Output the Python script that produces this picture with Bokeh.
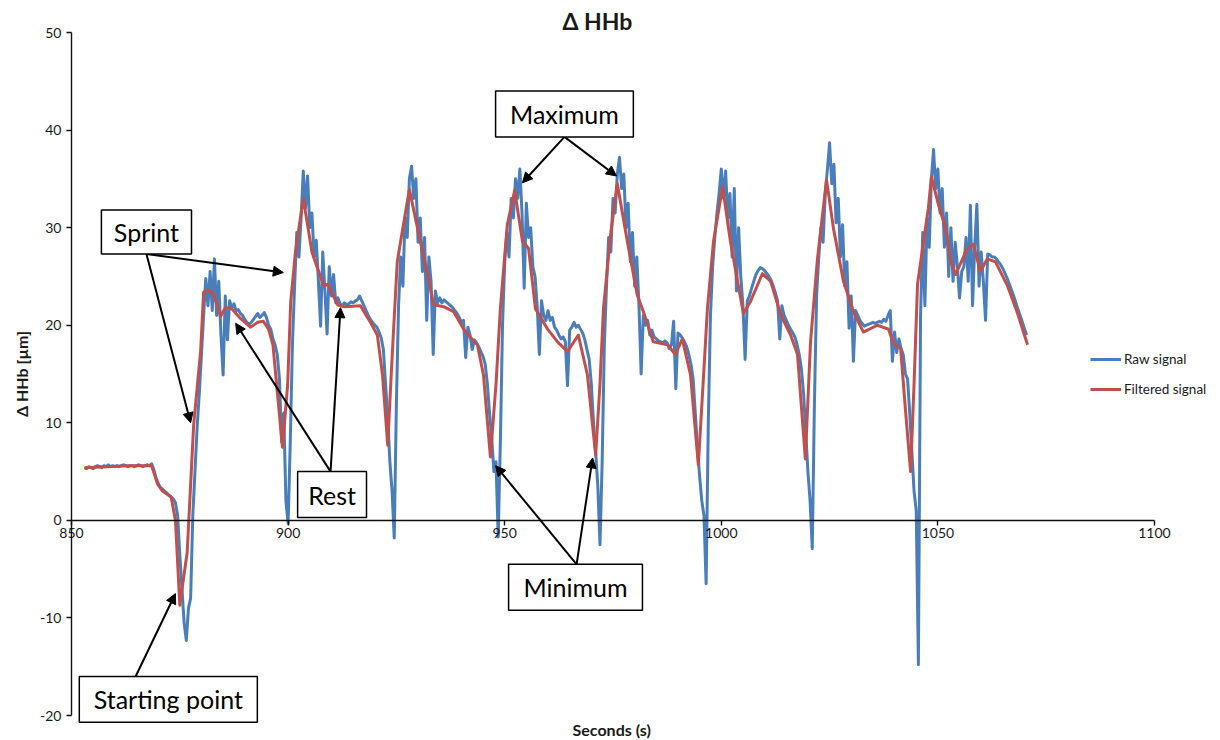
import numpy as np
from bokeh.plotting import figure
from bokeh.models import (Range1d, Label, BoxAnnotation, Arrow, NormalHead,
                          Legend, LegendItem, FixedTicker)
from bokeh.embed import file_html
from bokeh.resources import INLINE

# ---------------- data ----------------
x_ticks = [850, 900, 950, 1000, 1050, 1100]
y_ticks = [-20, -10, 0, 10, 20, 30, 40, 50]

# raw signal: one sample every 0.5 s starting at 853 s (rows of 10 s)
raw_start = 853.0
raw_step = 0.5
raw_y = (
    [5.4, 5.3, 5.5, 5.4, 5.3, 5.5, 5.6, 5.5, 5.4, 5.6, 5.5, 5.7, 5.5, 5.6, 5.5, 5.6, 5.5, 5.6, 5.7, 5.6]
    + [5.5, 5.6, 5.6, 5.5, 5.6, 5.7, 5.6, 5.5, 5.6, 5.7, 5.6, 5.8, 5.2, 4.4, 3.8, 3.4, 3.2, 3.0, 2.8, 2.6]
    + [2.4, 2.2, 1.8, 0.5, -3.5, -7.0, -10.5, -12.3, -9.0, -8.0, 0.5, 5.0, 9.5, 13.0, 17.0, 21.0, 24.8, 22.0, 25.5, 21.5]
    + [26.8, 21.0, 24.5, 19.0, 14.9, 23.0, 18.5, 22.5, 21.8, 22.2, 21.5, 21.6, 21.2, 21.0, 20.6, 20.3, 20.1, 20.3, 20.6, 20.9]
    + [21.2, 20.8, 21.0, 21.3, 20.8, 20.0, 19.6, 18.6, 18.0, 17.0, 14.5, 8.0, 11.0, 2.0, -0.3, 8.0, 18.0, 24.0, 29.5, 27.0]
    + [31.0, 35.8, 32.0, 35.3, 30.0, 31.5, 27.0, 28.7, 24.5, 19.9, 27.5, 23.5, 19.1, 26.0, 23.0, 25.2, 22.3, 22.8, 22.2, 22.0]
    + [22.3, 22.1, 22.2, 22.4, 22.3, 22.5, 22.6, 23.0, 22.5, 22.0, 21.5, 21.0, 20.6, 20.3, 20.0, 19.8, 19.3, 18.7, 17.5, 14.0]
    + [10.5, 6.0, 3.0, -1.8, 12.0, 22.0, 27.0, 24.0, 31.0, 29.0, 35.0, 36.3, 33.0, 35.0, 28.5, 31.0, 25.5, 29.0, 20.5, 27.0]
    + [24.5, 17.0, 23.5, 22.3, 22.8, 22.3, 22.6, 22.4, 22.2, 22.0, 21.8, 21.5, 21.2, 20.8, 20.3, 20.5, 16.7, 19.8, 19.0, 17.5]
    + [18.5, 18.2, 17.8, 17.3, 16.8, 16.0, 14.0, 11.0, 8.5, 5.0, 6.0, -1.7, 8.0, 20.0, 26.5, 29.5, 27.0, 33.0, 31.0, 35.0]
    + [33.0, 36.0, 31.5, 23.8, 32.5, 29.0, 30.0, 26.0, 25.0, 22.0, 17.0, 22.5, 21.0, 20.5, 21.5, 20.5, 20.8, 19.8, 19.5, 19.0]
    + [18.6, 18.8, 18.3, 13.8, 19.5, 19.8, 20.3, 19.8, 20.0, 19.6, 19.2, 18.5, 17.5, 16.5, 14.0, 10.0, 7.0, 3.5, -2.5, 6.0]
    + [18.0, 24.0, 29.0, 27.5, 33.0, 31.5, 35.5, 37.2, 34.0, 35.5, 30.0, 32.5, 26.5, 29.5, 24.0, 27.0, 22.0, 15.0, 21.0, 20.0]
    + [20.5, 19.0, 19.5, 18.8, 18.6, 18.4, 18.3, 18.2, 18.4, 18.2, 17.6, 18.0, 20.4, 13.5, 19.2, 19.0, 18.7, 18.3, 17.8, 17.0]
    + [16.0, 14.5, 11.0, 7.5, 4.5, 2.0, 0.5, -6.5, 10.0, 21.0, 26.0, 29.0, 31.5, 33.5, 36.0, 33.0, 35.8, 31.0, 33.5, 27.0]
    + [34.0, 23.5, 30.0, 25.0, 22.0, 16.5, 22.5, 23.0, 23.8, 24.5, 25.2, 25.6, 25.9, 25.8, 25.6, 25.3, 25.0, 24.6, 24.0, 23.3]
    + [22.5, 18.6, 22.0, 21.0, 20.5, 20.0, 19.6, 19.2, 18.8, 18.0, 17.0, 15.5, 13.0, 9.0, 5.0, 2.0, -2.9, 12.0, 23.0, 27.0]
    + [30.0, 28.5, 33.5, 36.0, 38.7, 34.5, 36.5, 30.5, 33.0, 27.0, 30.3, 24.0, 26.5, 19.7, 23.0, 16.3, 21.5, 21.0, 20.5, 20.2]
    + [19.9, 20.0, 20.1, 20.2, 20.3, 20.2, 20.3, 20.4, 20.3, 20.6, 20.4, 21.0, 21.5, 16.3, 19.3, 17.2, 18.6, 17.6, 17.0, 15.0]
    + [14.5, 11.0, 7.0, 3.0, 1.0, -14.8, 21.0, 29.5, 22.0, 31.0, 28.0, 35.0, 38.0, 34.0, 36.0, 31.5, 34.0, 28.0, 31.5, 25.0]
    + [30.0, 24.5, 28.5, 26.0, 22.8, 25.5, 26.0, 29.0, 24.5, 32.3, 22.0, 28.0, 32.4, 24.0, 27.5, 24.5, 20.5, 27.3, 27.2, 27.0]
    + [27.0, 26.8, 26.5, 26.2, 25.8, 25.3, 24.8, 24.2, 23.6, 23.0, 22.3, 21.6, 21.0, 20.3, 19.6, 19.0]
)
raw_t = [raw_start + raw_step * i for i in range(len(raw_y))]

# filtered signal
filt_t = [853, 858, 863, 868.5, 869.8, 871, 873, 874, 875, 876.7, 878.2, 879.8, 880.5, 881.5,
          882.8, 884.4, 885.5, 887, 889, 891.3, 893, 894.3, 895.5, 896.5, 897.5, 898.7, 899.9,
          900.6, 901.7, 903.5, 905.5, 906.5, 908.2, 909.2, 911.4, 913, 916.7, 919, 920.6, 921.8,
          923, 923.7, 924.4, 925.2, 926.5, 928, 929.9, 932.2, 933.6, 935.9, 938.2, 940.5, 942,
          943.7, 945.1, 946.7, 948, 949, 950.6, 952.3, 954.1, 955.5, 957.1, 959.9, 962.2, 964.5,
          967, 969.1, 971, 972, 972.8, 974.5, 976, 978.3, 980.6, 982, 984.3, 987.6, 989.4, 991,
          992.9, 994.7, 995.8, 996.8, 998.2, 1000.3, 1002.1, 1005.1, 1006.7, 1009.5, 1011.4,
          1013.7, 1016, 1017.6, 1018.3, 1019.4, 1020.6, 1022.2, 1024.3, 1025.9, 1028.2, 1030.5,
          1032.8, 1036, 1038.6, 1039.8, 1041.4, 1042.5, 1043.7, 1044.5, 1045.3, 1046.7, 1047.8,
          1048.5, 1050.1, 1051.8, 1053, 1054.1, 1056.8, 1058.2, 1059.8, 1061.4, 1063.3, 1066.1,
          1068.4, 1070.7]
filt_y = [5.4, 5.5, 5.6, 5.6, 3.8, 3.0, 2.4, 0.0, -8.7, -3.3, 9.8, 17.3, 23.4, 23.6,
          23.2, 20.9, 21.8, 21.7, 20.7, 19.8, 20.3, 20.4, 19.6, 18.0, 13.2, 7.5, 13.9,
          22.4, 27.5, 33.0, 27.5, 26.2, 24.1, 24.2, 22.1, 21.9, 22.0, 20.3, 19.0, 14.9,
          7.7, 14.0, 20.0, 26.5, 30.0, 33.9, 29.9, 25.2, 22.1, 21.9, 21.4, 19.6, 18.8,
          18.0, 14.9, 6.5, 14.0, 21.7, 30.3, 33.8, 28.6, 27.9, 21.7, 19.6, 18.3, 17.3,
          19.0, 14.9, 6.7, 14.0, 21.7, 29.5, 34.5, 28.6, 23.1, 21.4, 18.3, 18.0, 17.0, 18.6,
          14.9, 5.7, 14.0, 21.7, 28.6, 34.2, 28.6, 21.2, 22.4, 25.3, 24.5,
          21.1, 19.0, 17.0, 12.8, 6.3, 18.3, 26.8, 34.9, 29.9, 24.5, 21.4,
          19.3, 20.0, 19.6, 18.1, 17.6, 11.4, 5.0, 14.0, 24.2, 28.6, 32.0,
          35.2, 32.4, 29.9, 26.5, 25.2, 27.9, 28.3, 25.5, 26.8, 26.5, 24.0,
          21.2, 18.0]

BLUE = "#4A7EBB"
RED = "#C0504D"
FONT = "Lato"
TXT = "#1a1a1a"

# ---------------- figure ----------------
# The frame covers the whole canvas; the axes sit at fixed positions inside it,
# so nothing (legend, titles, edge tick labels) is clipped.
p = figure(width=1220, height=740,
           x_range=Range1d(833.61, 1115.24), y_range=Range1d(-22.56, 53.28),
           output_backend="svg", toolbar_location=None,
           min_border_left=0, min_border_right=0, min_border_top=0, min_border_bottom=0)
p.title.visible = False
p.outline_line_color = None
p.xgrid.visible = False
p.ygrid.visible = False
p.background_fill_color = "white"
p.border_fill_color = "white"

for ax in (p.xaxis[0], p.yaxis[0]):
    ax.axis_line_color = "#111111"
    ax.axis_line_width = 1.4
    ax.major_tick_line_color = "#111111"
    ax.major_tick_line_width = 1.4
    ax.major_tick_in = 0
    ax.major_tick_out = 5
    ax.minor_tick_line_color = None
    ax.major_label_text_font = FONT
    ax.major_label_text_font_size = "14px"
    ax.major_label_text_color = TXT

p.xaxis.ticker = FixedTicker(ticks=x_ticks)
p.yaxis.ticker = FixedTicker(ticks=y_ticks)
p.yaxis.major_label_overrides = {t: str(t) for t in y_ticks}
p.xaxis.major_label_overrides = {t: str(t) for t in x_ticks}
p.xaxis.fixed_location = 0
p.yaxis.fixed_location = 850
p.xaxis.bounds = (850, 1100)
p.yaxis.bounds = (-20, 50)
p.xaxis.major_label_standoff = 3
p.yaxis.major_label_standoff = 5

r_raw = p.line(raw_t, raw_y, line_color=BLUE, line_width=3, line_join="round")
r_filt = p.line(filt_t, filt_y, line_color=RED, line_width=3, line_join="round")

legend = Legend(items=[LegendItem(label="Raw signal", renderers=[r_raw]),
                       LegendItem(label="Filtered signal", renderers=[r_filt])],
                location=(1090, 343), orientation="vertical",
                border_line_color=None, background_fill_alpha=0,
                glyph_width=31, glyph_height=14, label_height=14, label_standoff=3,
                spacing=14, padding=0, margin=0,
                label_text_font=FONT, label_text_font_size="13.5px", label_text_color=TXT)
p.add_layout(legend)

# ---------------- annotations ----------------
boxes = [
    ("Sprint", 856.9, 877.7, 31.8, 27.3),
    ("Rest", 902.2, 918.1, 5.0, 0.3),
    ("Maximum", 947.9, 979.7, 44.0, 39.3),
    ("Minimum", 950.9, 981.8, -4.5, -9.2),
    ("Starting point", 851.8, 892.9, -16.0, -20.7),
]
arrows = [
    (867.3, 27.3, 898.9, 25.4), (867.3, 27.3, 877.5, 10.0),
    (909.8, 5.0, 887.9, 20.2), (909.8, 5.0, 912.1, 21.8),
    (963.8, 39.3, 954.1, 34.6), (963.8, 39.3, 975.8, 35.3),
    (966.6, -4.5, 947.9, 5.6), (966.6, -4.5, 970.3, 6.4),
    (864.8, -16.0, 874.0, -7.5),
]
for (x0, y0, x1, y1) in arrows:
    p.add_layout(Arrow(x_start=x0, y_start=y0, x_end=x1, y_end=y1,
                       line_color="black", line_width=2,
                       end=NormalHead(size=10, fill_color="black", line_color="black", line_width=1)))
for (txt, l, r, t, b) in boxes:
    p.add_layout(BoxAnnotation(left=l, right=r, top=t, bottom=b, fill_color="white", fill_alpha=1,
                               line_color="black", line_width=1.5, line_alpha=1))
    p.add_layout(Label(x=(l + r) / 2, y=(t + b) / 2, text=txt, text_align="center",
                       text_baseline="middle", text_font=FONT, text_font_size="25px",
                       text_color="black"))

p.add_layout(Label(x=971.4, y=51.2, text="Δ HHb", text_align="center", text_baseline="middle",
                   text_font=FONT, text_font_style="bold", text_font_size="23px", text_color=TXT))
p.add_layout(Label(x=974.7, y=-21.45, text="Seconds (s)", text_align="center", text_baseline="middle",
                   text_font=FONT, text_font_style="bold", text_font_size="16px", text_color=TXT))
p.add_layout(Label(x=838.5, y=15.0, text="Δ HHb [µm]", angle=np.pi / 2, text_align="center",
                   text_baseline="middle", text_font=FONT, text_font_style="bold",
                   text_font_size="16px", text_color=TXT))

open("out.html", "w").write(file_html(p, INLINE))
